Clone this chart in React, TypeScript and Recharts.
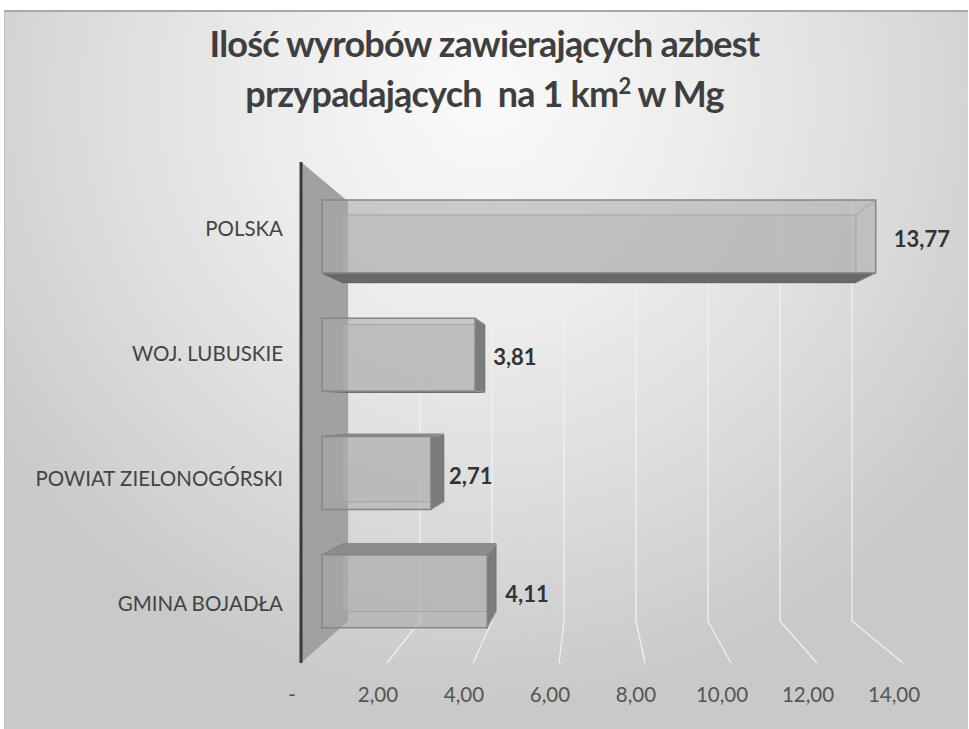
import React from "react";
import { BarChart, Bar, XAxis, YAxis, CartesianGrid, LabelList } from "recharts";

const categories = ["POLSKA", "WOJ. LUBUSKIE", "POWIAT ZIELONOGÓRSKI", "GMINA BOJADŁA"];
const values = [13.77, 3.81, 2.71, 4.11];
const xTicks = [0, 2, 4, 6, 8, 10, 12, 14];
const titleLine1 = "Ilość wyrobów zawierających azbest";
const titleLine2a = "przypadających  na 1 km";
const titleLine2sup = "2";
const titleLine2b = " w Mg";

const data = categories.map((name, i) => ({ name, value: values[i] }));

const FONT = "Lato, 'Open Sans', sans-serif";

// perspective parameters (pixels / depth fraction)
const VX_FLOOR = 590;
const VY = 405;
const K_FLOOR = 0.163;
const VX_BAR = 605;
const K_BAR = 0.073;

const fmt = (v: number) => v.toFixed(2).replace(".", ",");

const GridLine = (p: any) => {
  const { x1, y1, y2, x } = p;
  const yTop = y1 + (VY - y1) * K_FLOOR;
  const yBot = y2 + (VY - y2) * K_FLOOR;
  const xb = x1 + (VX_FLOOR - x1) * K_FLOOR;
  if (Math.abs(x1 - x) < 0.5) {
    return (
      <g>
        <polygon
          points={`${x1},${y1} ${xb},${yTop} ${xb},${yBot} ${x1},${y2}`}
          fill="#a1a1a1"
          stroke="none"
        />
        <line x1={x1} y1={y1} x2={x1} y2={y2} stroke="#3a3a3a" strokeWidth={3} />
      </g>
    );
  }
  return (
    <path
      d={`M${xb},${yTop} L${xb},${yBot} L${x1},${y2}`}
      stroke="#f0f0f0"
      strokeWidth={1.3}
      fill="none"
    />
  );
};

const P = (px: number, py: number): [number, number] => [
  px + (VX_BAR - px) * K_BAR,
  py + (VY - py) * K_BAR,
];

const Box3D = (props: any) => {
  const { x, y, width: w, height: h } = props;
  if (w == null || h == null) return null;
  const fl: [number, number] = [x, y];
  const fr: [number, number] = [x + w, y];
  const br: [number, number] = [x + w, y + h];
  const bl: [number, number] = [x, y + h];
  const bfl = P(...fl);
  const bfr = P(...fr);
  const bbr = P(...br);
  const bbl = P(...bl);
  const pts = (a: [number, number][]) => a.map((q) => `${q[0]},${q[1]}`).join(" ");
  return (
    <g>
      <polygon points={pts([bfl, bfr, bbr, bbl])} fill="#c4c4c4" fillOpacity={0.45} stroke="#a0a0a0" strokeWidth={1} />
      {y > VY && (
        <polygon points={pts([fl, fr, bfr, bfl])} fill="#8c8c8c" stroke="#808080" strokeWidth={1} />
      )}
      {y + h < VY && (
        <polygon points={pts([bl, br, bbr, bbl])} fill="#686868" stroke="#626262" strokeWidth={1} />
      )}
      {x + w < VX_BAR && (
        <polygon points={pts([fr, br, bbr, bfr])} fill="#7c7c7c" stroke="#707070" strokeWidth={1} />
      )}
      <line x1={fr[0]} y1={fr[1]} x2={bfr[0]} y2={bfr[1]} stroke="#a0a0a0" />
      <line x1={br[0]} y1={br[1]} x2={bbr[0]} y2={bbr[1]} stroke="#a0a0a0" />
      <rect x={x} y={y} width={w} height={h} fill="#a8a8a8" fillOpacity={0.55} stroke="#858585" strokeWidth={1.5} />
    </g>
  );
};

const NoShape = () => null;

const CatTick = (p: any) => {
  const { x, y, payload } = p;
  return (
    <text x={x} y={y + 3} textAnchor="end" dominantBaseline="central" fontFamily={FONT} fontSize={20.5} fill="#444">
      {payload.value}
    </text>
  );
};

const XTick = (p: any) => {
  const { x, y, payload } = p;
  return (
    <text x={x - 9} y={y + 31} textAnchor="middle" dominantBaseline="central" fontFamily={FONT} fontSize={20.5} fill="#555">
      {payload.value === 0 ? "-" : fmt(payload.value)}
    </text>
  );
};

const ValueLabel = (p: any) => {
  const { x, y, width, height, value } = p;
  return (
    <text
      x={x + width + 18}
      y={y + height / 2 + 2}
      textAnchor="start"
      dominantBaseline="central"
      fontFamily={FONT}
      fontWeight="bold"
      fontSize={22}
      fill="#333"
    >
      {fmt(value)}
    </text>
  );
};

export default function App() {
  return (
    <div style={{ position: "fixed", left: 0, top: 0, width: 969, height: 729, background: "#fff", overflow: "hidden" }}>
      <div
        style={{
          position: "absolute",
          left: 4,
          top: 10,
          width: 964,
          height: 719,
          borderTop: "2px solid #a9a9a9",
          borderLeft: "1px solid #c0c0c0",
          boxSizing: "border-box",
          background:
            "radial-gradient(ellipse 62% 85% at 50% 12%, #fafafa 0%, #ededed 35%, #dddddd 65%, #c9c9c9 100%)",
        }}
      />
      <div
        style={{
          position: "absolute",
          left: 0,
          top: 18,
          width: 969,
          textAlign: "center",
          fontFamily: FONT,
          fontWeight: "bold",
          fontSize: 36,
          lineHeight: "50px",
          color: "#3f3f3f",
          letterSpacing: -0.8,
        }}
      >
        <div>{titleLine1}</div>
        <div style={{ whiteSpace: "pre" }}>
          {titleLine2a}
          <sup style={{ fontSize: 22, verticalAlign: "top", lineHeight: "36px" }}>{titleLine2sup}</sup>
          {titleLine2b}
        </div>
      </div>
      <div style={{ position: "absolute", left: 0, top: 0 }}>
        <BarChart
          width={969}
          height={729}
          data={data}
          layout="vertical"
          margin={{ top: 162, right: 66, bottom: 26, left: 0 }}
        >
          <XAxis
            xAxisId="floor"
            type="number"
            dataKey="value"
            domain={[0, 14]}
            allowDataOverflow
            ticks={xTicks}
            axisLine={false}
            tickLine={false}
            tickSize={0}
            tickMargin={0}
            height={40}
            tick={<XTick />}
            interval={0}
          />
          <XAxis xAxisId="bar" type="number" domain={[0, 14]} hide height={0} padding={{ left: 21, right: 18 }} />
          <YAxis
            yAxisId="labels"
            type="category"
            dataKey="name"
            width={301}
            axisLine={false}
            tickLine={false}
            tickSize={0}
            tickMargin={18}
            tick={<CatTick />}
            interval={0}
          />
          <YAxis yAxisId="bars" type="category" dataKey="name" hide width={0} padding={{ top: 15, bottom: 13 }} />
          <CartesianGrid xAxisId="floor" yAxisId="labels" horizontal={false} vertical={GridLine} />
          <Bar
            dataKey="value"
            xAxisId="floor"
            yAxisId="labels"
            shape={<NoShape />}
            isAnimationActive={false}
          />
          <Bar
            dataKey="value"
            xAxisId="bar"
            yAxisId="bars"
            barSize={73}
            shape={<Box3D />}
            isAnimationActive={false}
          >
            <LabelList dataKey="value" content={<ValueLabel />} />
          </Bar>
        </BarChart>
      </div>
    </div>
  );
}
